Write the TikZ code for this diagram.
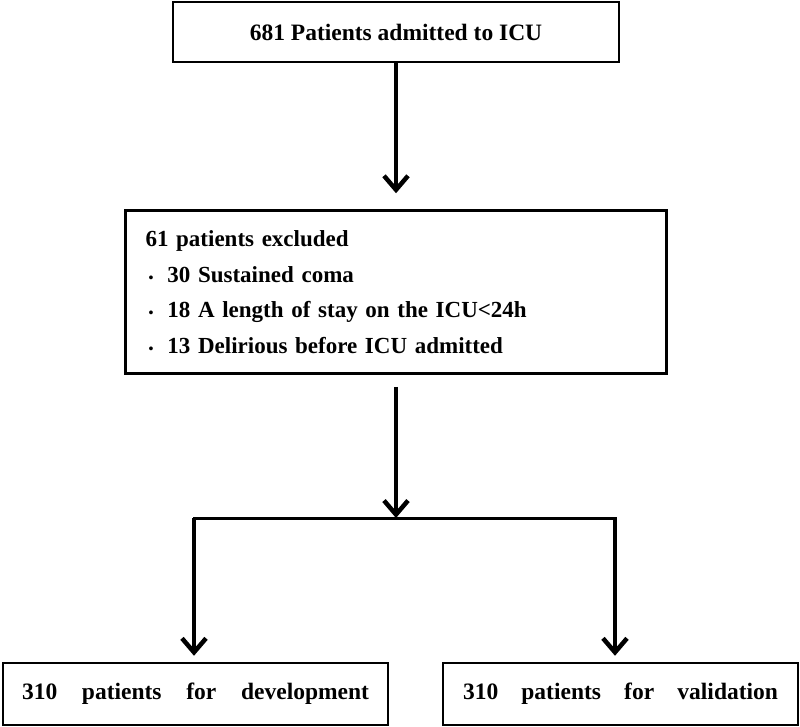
\documentclass[tikz,border=0pt]{standalone}
\usepackage{fontspec}
\setmainfont{Liberation Serif}
\usetikzlibrary{arrows.meta}

\tikzset{
    flowbox/.style={draw, line width=2.5pt, inner sep=0pt, font=\bfseries\fontsize{23.5}{28}\selectfont},
    flowarrow/.style={line width=4.5pt, -{Straight Barb[length=14pt,width=24pt]}},
}

\begin{document}
\begin{tikzpicture}[x=1pt,y=-1pt]
            \useasboundingbox (0,0) rectangle (800,726);

            \node[flowbox, minimum width=446pt, minimum height=60pt] (admitted) at (396,32) {681 Patients admitted to ICU};

            \node[flowbox, minimum width=541pt, minimum height=163pt, text width=501pt, align=left,
                  font=\bfseries\fontsize{23}{35.5}\selectfont] (excluded) at (396,292)
                 {61 patients excluded\\
                  \hspace{3pt}{\fontsize{14}{14}\selectfont\textbullet}\hspace{14pt}30 Sustained coma\\
                  \hspace{3pt}{\fontsize{14}{14}\selectfont\textbullet}\hspace{14pt}18 A length of stay on the ICU<24h\\
                  \hspace{3pt}{\fontsize{14}{14}\selectfont\textbullet}\hspace{14pt}13 Delirious before ICU admitted};

            \node[flowbox, minimum width=385pt, minimum height=62pt] (develop) at (195.5,694) {\makebox[347pt][s]{310 patients for development}};
            \node[flowbox, minimum width=355pt, minimum height=62pt] (validate) at (620.5,694) {\makebox[315pt][s]{310 patients for validation}};

            \coordinate (split) at (396,518);
            \coordinate (left) at (194,518);
            \coordinate (right) at (615,518);

            \draw[flowarrow, shorten >=16pt] (admitted) -- (excluded.north);

            \draw[flowarrow, shorten <=12pt] (excluded.south) -- (split);

            \draw[line width=3pt, line cap=rect] (left) -- (right);

            \draw[flowarrow, shorten >=6pt] (left) -- (left |- develop.north);
            \draw[flowarrow, shorten >=6pt] (right) -- (right |- validate.north);
        \end{tikzpicture}
\end{document}
